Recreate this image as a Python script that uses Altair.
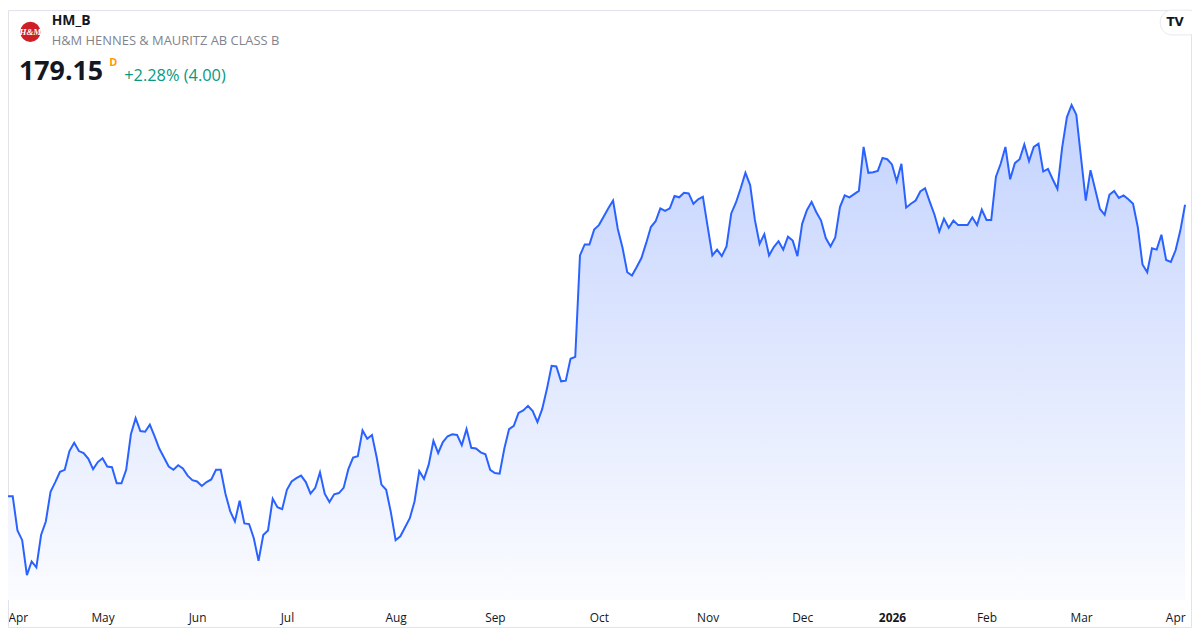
import json
import altair as alt
import pandas as pd

# ---------------- header values ----------------
ticker = "HM_B"
company = "H&M HENNES & MAURITZ AB CLASS B"
last_close = 179.15
change_abs = 4.00
change_pct = 2.28
interval = "D"

# Stockholm exchange holidays in the period (non-trading weekdays)
holidays = ["2025-04-18", "2025-04-21", "2025-05-01", "2025-05-29", "2025-06-06",
            "2025-06-20", "2025-12-24", "2025-12-25", "2025-12-26", "2025-12-31",
            "2026-01-01", "2026-01-06"]

# ---------------- daily closes (SEK) ----------------
apr_2025 = [134.0, 134.0, 128.7, 127.2, 121.8, 123.9, 123.0, 128.0, 130.1, 134.7,
            136.2, 137.8, 138.1, 141.0, 142.3, 141.0, 140.7, 139.8, 138.2, 139.3]
may_2025 = [139.9, 138.6, 138.5, 136.0, 136.0, 138.1, 143.6, 146.1, 144.1, 144.0,
            145.1, 143.3, 141.4, 140.0, 138.6, 138.1, 138.8, 138.3, 137.2, 136.5]
jun_2025 = [136.3, 135.6, 136.2, 136.6, 138.1, 138.1, 134.4, 131.7, 130.1, 133.3,
            129.8, 129.7, 127.5, 124.0, 128.0, 128.7, 133.6, 132.3, 132.0]
jul_2025 = [135.0, 136.3, 136.8, 137.2, 136.2, 134.4, 135.3, 137.7, 134.4, 133.1,
            134.3, 134.5, 135.3, 138.2, 140.0, 140.2, 144.2, 142.9, 143.5, 140.0,
            135.8, 135.0, 131.5]
aug_2025 = [127.2, 127.8, 129.2, 130.6, 133.2, 137.9, 136.7, 138.9, 142.6, 140.7,
            142.4, 143.3, 143.6, 143.5, 141.9, 144.4, 141.5, 141.4, 140.8, 140.5,
            138.1]
sep_2025 = [137.6, 137.5, 141.4, 144.4, 144.9, 146.9, 147.3, 148.0, 147.2, 145.5,
            147.5, 150.6, 154.2, 154.1, 151.8, 151.9, 155.3, 155.6, 171.3, 173.0,
            173.0, 175.3]
oct_2025 = [176.0, 177.3, 178.6, 179.8, 175.4, 172.5, 168.7, 168.2, 169.5, 170.9,
            173.2, 175.7, 176.6, 178.6, 178.2, 178.6, 180.5, 180.3, 181.0, 180.9,
            179.3, 180.0, 180.4]
nov_2025 = [175.8, 171.3, 172.2, 171.2, 172.7, 177.8, 179.5, 181.7, 184.1, 182.2,
            176.8, 173.1, 174.6, 171.3, 172.6, 173.5, 172.2, 174.2, 173.6, 171.2]
dec_2025 = [176.2, 178.3, 179.6, 178.0, 176.7, 174.0, 172.7, 174.1, 178.8, 180.6,
            180.3, 180.8, 181.3, 188.1, 184.1, 184.2, 184.4, 186.4, 186.2]
jan_2026 = [185.4, 182.8, 185.5, 178.7, 179.3, 179.8, 181.2, 181.7, 179.6, 177.6,
            175.0, 177.0, 175.6, 176.7, 176.0, 176.0, 176.0, 177.2, 176.0, 178.4]
feb_2026 = [176.8, 176.8, 183.5, 185.5, 188.1, 183.1, 185.6, 186.2, 188.5, 185.9,
            188.1, 188.6, 184.3, 184.7, 183.1, 181.6, 188.0, 192.7, 194.6, 193.1]
mar_2026 = [186.4, 179.8, 184.5, 181.5, 178.5, 177.6, 180.7, 181.3, 180.2, 180.6,
            180.0, 179.3, 175.7, 169.9, 168.7, 172.4, 172.2, 174.5, 170.6, 170.3,
            172.1, 175.15]
apr_2026 = [179.15]

prices = (apr_2025 + may_2025 + jun_2025 + jul_2025 + aug_2025 + sep_2025 + oct_2025
          + nov_2025 + dec_2025 + jan_2026 + feb_2026 + mar_2026 + apr_2026)

dates = [d for d in pd.bdate_range("2025-04-01", "2026-04-01")
         if d.strftime("%Y-%m-%d") not in holidays]
n = min(len(dates), len(prices))
df = pd.DataFrame({"i": list(range(n)), "date": dates[:n], "close": prices[:n]})

# month starts as axis ticks (trading-day index scale, like the original)
ms = df.groupby(df["date"].dt.to_period("M"))["i"].min()
tick_vals = [int(v) for v in ms.values]
tick_labels = [str(p.year) if p.month == 1 else p.strftime("%b") for p in ms.index]
jan_idx = tick_vals[[p.month for p in ms.index].index(1)]
label_expr = "%s[indexof(%s, datum.value)]" % (json.dumps(tick_labels), json.dumps(tick_vals))

W, H = 1185, 594
FONT = "Open Sans"
BLUE = "#2962ff"

area = alt.Chart(df).mark_area(
    line={"color": BLUE, "strokeWidth": 2},
    opacity=1,
    color=alt.Gradient(
        gradient="linear",
        stops=[alt.GradientStop(color="#c4d3fe", offset=0),
               alt.GradientStop(color="#dfe7fe", offset=0.5),
               alt.GradientStop(color="#fbfcff", offset=1)],
        x1=1, x2=1, y1=0, y2=1,
    ),
).encode(
    x=alt.X("i:Q",
            scale=alt.Scale(domain=[0, n - 1], nice=False, zero=False),
            axis=alt.Axis(values=tick_vals, labelExpr=label_expr, title=None,
                          grid=False, domain=False, ticks=False, tickSize=0,
                          labelPadding=13, labelFlush=True,
                          labelOverlap=False,
                          labelFont=FONT, labelFontSize=12, labelColor="#131722",
                          labelFontWeight={"condition": {"test": "datum.value == %d" % jan_idx,
                                                         "value": "bold"},
                                           "value": "normal"})),
    y=alt.Y("close:Q", stack=False,
            scale=alt.Scale(domain=[117.92, 209.30], nice=False, zero=False),
            axis=None),
    y2=alt.value(H),
)


def txt(s, x, y, size, color, weight="normal", align="left", baseline="alphabetic",
        font=FONT, style="normal"):
    return alt.Chart(pd.DataFrame({"t": [s]})).mark_text(
        align=align, baseline=baseline, font=font, fontSize=size, fontWeight=weight,
        color=color, fontStyle=style,
    ).encode(text="t:N", x=alt.value(x), y=alt.value(y))


one = pd.DataFrame({"a": [0]})
border = alt.Chart(one).mark_rect(fill="transparent", stroke="#e0e3eb", strokeWidth=1).encode(
    x=alt.value(0.5), x2=alt.value(1191.5), y=alt.value(0.5), y2=alt.value(621.5))

logo = alt.Chart(one).mark_circle(color="#cc1f26", opacity=1, size=415).encode(
    x=alt.value(22.5), y=alt.value(22))
logo_txt = txt("H&M", 22.5, 22.5, 9, "white", weight="bold", align="center",
               baseline="middle", font="Liberation Serif", style="italic")

badge = alt.Chart(one).mark_rect(fill="white", stroke="#e6e8ee", strokeWidth=1,
                                 cornerRadius=12).encode(
    x=alt.value(1160), x2=alt.value(1200), y=alt.value(0), y2=alt.value(25))
badge_txt = txt("TV", 1175, 12.5, 12, "#131722", weight="bold", align="center",
                baseline="middle", font="DejaVu Sans")

h1 = txt(ticker, 44, 15, 14, "#131722", weight="bold")
h2 = txt(company, 44, 35, 13, "#80838d")
h3 = txt("%.2f" % last_close, 11, 70, 27, "#131722", weight="bold")
h4 = txt(interval, 102, 56, 11, "#ff9800", weight="bold")
h5 = txt("%+.2f%% (%.2f)" % (change_pct, change_abs), 117, 71, 16.5, "#089981")

chart = alt.layer(
    border, area, logo, logo_txt, badge, badge_txt, h1, h2, h3, h4, h5
).properties(
    width=W, height=H,
    autosize=alt.AutoSizeParams(type="none"),
    padding={"left": 0, "top": 0, "right": 7, "bottom": 28},
    background="white",
).configure_view(stroke="transparent")

chart.save("out.html", embed_options={"renderer": "svg", "actions": False})
